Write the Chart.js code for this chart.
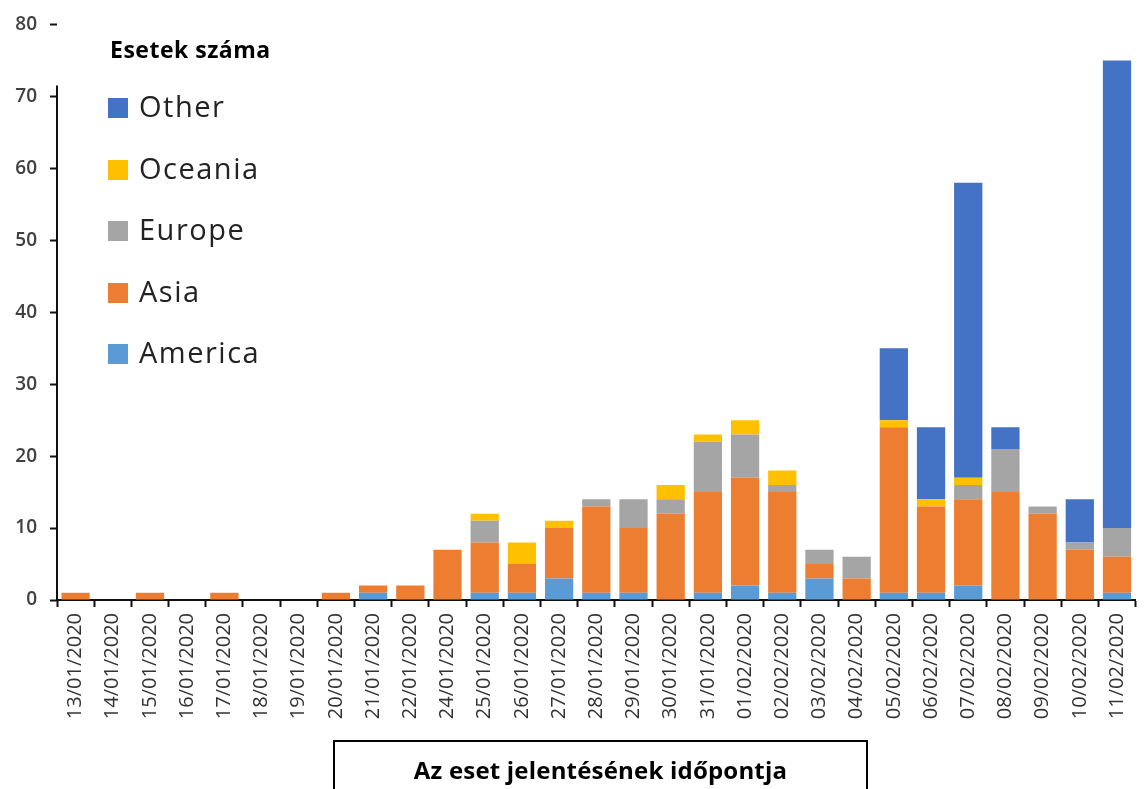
<!DOCTYPE html>
<html>
<head>
<meta charset="utf-8">
<script src="https://cdn.jsdelivr.net/npm/chart.js@4/dist/chart.umd.min.js"></script>
<style>
  html, body { margin: 0; padding: 0; background: #fff; }
  #wrap { position: relative; width: 1147px; height: 789px; overflow: hidden; }
  #chart { position: absolute; left: 0; top: 0; }
  .ytitle { position: absolute; left: 110px; top: 33px; font: bold 23px "Open Sans", sans-serif; letter-spacing: 0.5px; color: #000; }
  .legend { position: absolute; left: 108px; top: 86px; font-family: "Open Sans", sans-serif; font-size: 29px; letter-spacing: 1.5px; color: #222; }
  .legend div { height: 61.5px; display: flex; align-items: flex-start; }
  .legend span.sw { display: inline-block; width: 20px; height: 20px; margin: 12px 11px 0 0; }
  .xtitle { position: absolute; left: 333px; top: 740px; width: 531px; height: 80px; border: 2px solid #000;
            text-align: center; font: bold 24px "Open Sans", sans-serif; letter-spacing: 0.2px; color: #000; }
  .xtitle span { display: block; margin-top: 11px; }
</style>
</head>
<body>
<div id="wrap">
  <canvas id="chart" width="1147" height="789"></canvas>
  <div class="ytitle">Esetek száma</div>
  <div class="legend" id="legend"></div>
  <div class="xtitle"><span>Az eset jelentésének időpontja</span></div>
</div>
<script>
const dates = ['13/01/2020', '14/01/2020', '15/01/2020', '16/01/2020', '17/01/2020', '18/01/2020',
    '19/01/2020', '20/01/2020', '21/01/2020', '22/01/2020', '24/01/2020', '25/01/2020', '26/01/2020',
    '27/01/2020', '28/01/2020', '29/01/2020', '30/01/2020', '31/01/2020', '01/02/2020', '02/02/2020',
    '03/02/2020', '04/02/2020', '05/02/2020', '06/02/2020', '07/02/2020', '08/02/2020', '09/02/2020',
    '10/02/2020', '11/02/2020'];

const america = [0, 0, 0, 0, 0, 0, 0, 0, 1, 0, 0, 1, 1, 3, 1, 1, 0, 1, 2, 1, 3, 0, 1, 1, 2, 0, 0, 0, 1];
const asia    = [1, 0, 1, 0, 1, 0, 0, 1, 1, 2, 7, 7, 4, 7, 12, 9, 12, 14, 15, 14, 2, 3, 23, 12, 12, 15, 12, 7, 5];
const europe  = [0, 0, 0, 0, 0, 0, 0, 0, 0, 0, 0, 3, 0, 0, 1, 4, 2, 7, 6, 1, 2, 3, 0, 0, 2, 6, 1, 1, 4];
const oceania = [0, 0, 0, 0, 0, 0, 0, 0, 0, 0, 0, 1, 3, 1, 0, 0, 2, 1, 2, 2, 0, 0, 1, 1, 1, 0, 0, 0, 0];
const other   = [0, 0, 0, 0, 0, 0, 0, 0, 0, 0, 0, 0, 0, 0, 0, 0, 0, 0, 0, 0, 0, 0, 10, 10, 41, 3, 0, 6, 65];

const yTicks = [0, 10, 20, 30, 40, 50, 60, 70, 80];

const seriesNames = ['America', 'Asia', 'Europe', 'Oceania', 'Other'];
const seriesColors = ['#5B9BD5', '#ED7D31', '#A5A5A5', '#FFC000', '#4472C4'];
const seriesData = [america, asia, europe, oceania, other];

// legend, top item is last series
const legendEl = document.getElementById('legend');
for (let i = seriesNames.length - 1; i >= 0; i--) {
    const row = document.createElement('div');
    row.innerHTML = '<span class="sw" style="background:' + seriesColors[i] + '"></span>' + seriesNames[i];
    legendEl.appendChild(row);
}

// y axis line stops a bit below the top tick, like the original
const axisLine = {
    id: 'axisLine',
    afterDraw(chart) {
        const y = chart.scales.y;
        const ctx = chart.ctx;
        ctx.save();
        ctx.strokeStyle = '#111';
        ctx.lineWidth = 2;
        ctx.beginPath();
        ctx.moveTo(y.right, y.getPixelForValue(0) + 1);
        ctx.lineTo(y.right, y.getPixelForValue(71.5));
        ctx.stroke();
        ctx.restore();
    }
};

new Chart(document.getElementById('chart'), {
    type: 'bar',
    data: {
        labels: dates,
        datasets: seriesNames.map((name, i) => ({
            label: name,
            data: seriesData[i],
            backgroundColor: seriesColors[i],
            barPercentage: 0.76,
            categoryPercentage: 1
        }))
    },
    options: {
        responsive: false,
        animation: false,
        layout: { padding: { top: 18, right: 0, left: 0, bottom: 0 } },
        plugins: { legend: { display: false }, tooltip: { enabled: false } },
        scales: {
            x: {
                stacked: true,
                offset: true,
                afterFit: s => { s.height = 189; },
                grid: { offset: true, drawOnChartArea: false, color: '#111', tickLength: 7, tickWidth: 2 },
                border: { color: '#111', width: 2 },
                ticks: { minRotation: 90, maxRotation: 90, autoSkip: false, padding: 6,
                         color: '#333', font: { family: 'Open Sans', size: 20 } }
            },
            y: {
                stacked: true,
                min: 0,
                max: 80,
                afterFit: s => { s.width = 57; },
                afterBuildTicks: s => { s.ticks = yTicks.map(v => ({ value: v })); },
                grid: { drawOnChartArea: false, color: '#111', tickLength: 7, tickWidth: 2 },
                border: { display: false },
                ticks: { padding: 13, color: '#404040', font: { family: 'Open Sans', size: 19, weight: '600' } }
            }
        }
    },
    plugins: [axisLine]
});
</script>
</body>
</html>
